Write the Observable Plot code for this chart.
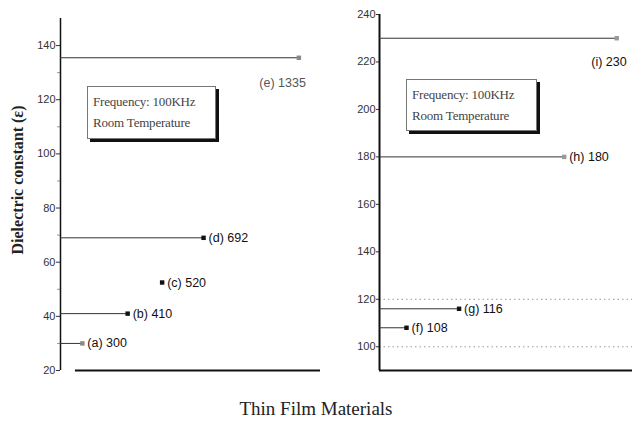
<!DOCTYPE html>
<html><head><meta charset="utf-8">
<script src="https://cdn.jsdelivr.net/npm/d3@7"></script>
<script src="https://cdn.jsdelivr.net/npm/@observablehq/plot@0.6"></script>
<style>
body{margin:0;background:#fff;}
#wrap{position:relative;width:632px;height:421px;overflow:hidden;font-family:"Liberation Sans",Arial,sans-serif;background:#fff;}
.panel{position:absolute;top:0;}
.box{position:absolute;box-sizing:border-box;border:1px solid #777;box-shadow:3px 3px 0 #111;background:#fff;font-family:"Liberation Serif","DejaVu Serif",serif;font-size:13px;color:#444;line-height:21px;padding:4px 4px 0 5px;white-space:nowrap;letter-spacing:-0.2px;}
#ylabel{position:absolute;left:18px;top:180px;transform:translate(-50%,-50%) rotate(-90deg);font-family:"Liberation Serif","DejaVu Serif",serif;font-weight:bold;font-size:16px;color:#222;white-space:nowrap;}
#title{position:absolute;left:0;width:632px;top:398px;text-align:center;font-family:"Liberation Serif","DejaVu Serif",serif;font-size:19px;color:#222;}
</style></head>
<body><div id="wrap">
<div class="panel" id="left" style="left:0"></div>
<div class="panel" id="right" style="left:320px"></div>
<div class="box" style="left:87px;top:86px;width:129px;height:53px">Frequency: 100KHz<br>Room Temperature</div>
<div class="box" style="left:406px;top:79px;width:131px;height:52px">Frequency: 100KHz<br>Room Temperature</div>
<div id="ylabel">Dielectric constant (ε)</div>
<div id="title">Thin Film Materials</div>
</div>
<script>
// Left panel data
const leftIds = ["(a)", "(b)", "(c)", "(d)", "(e)"];
const leftValues = [300, 410, 520, 692, 1335];
const leftY = [30, 41, 52.5, 69, 135.5];
const leftStem = [true, true, false, true, true];
const leftTicks = [20, 40, 60, 80, 100, 120, 140];
const leftMinor = [30, 50, 70, 90, 110, 130];
// Right panel data
const rightIds = ["(f)", "(g)", "(h)", "(i)"];
const rightValues = [108, 116, 180, 230];
const rightOrder = [1, 2, 4, 5];
const rightTicks = [100, 120, 140, 160, 180, 200, 220, 240];
const rightGrid = [100, 120];

const left = leftIds.map((id, i) => ({id, v: leftValues[i], y: leftY[i], stem: leftStem[i]}));
const right = rightIds.map((id, i) => ({id, v: rightValues[i], x: rightOrder[i]}));
const lab = d => `${d.id} ${d.v}`;
const labFont = {fontSize: 12.5, fill: "#111", fontFamily: "Liberation Sans, Arial, sans-serif"};

const lx0 = 258, lx1 = 1550;
const leftPlot = Plot.plot({
  width: 330, height: 380,
  marginLeft: 60, marginRight: 10, marginTop: 18, marginBottom: 10,
  style: {background: "transparent", fontFamily: "Liberation Sans, Arial, sans-serif", overflow: "visible"},
  x: {type: "log", domain: [lx0, lx1], axis: null},
  y: {domain: [20, 150], axis: null},
  marks: [
    Plot.axisY({ticks: leftTicks, tickSize: 4, tickPadding: 1, fontSize: 11, color: "#333", label: null}),
    Plot.axisY({ticks: leftMinor, tickSize: 3, tickFormat: () => "", color: "#999", label: null}),
    Plot.ruleX([lx0], {stroke: "#111", strokeWidth: 1.5}),
    Plot.ruleY([20], {x1: 286, x2: lx1, stroke: "#111", strokeWidth: 2}),
    Plot.ruleY(left.filter(d => d.stem), {y: "y", x1: lx0, x2: "v", stroke: "#333", strokeWidth: 1}),
    Plot.dot(left, {x: "v", y: "y", symbol: "square", r: 2.5, fill: d => (d.id === "(a)" || d.id === "(e)") ? "#888" : "#111", stroke: "none"}),
    Plot.text(left.filter(d => d.id !== "(e)"), {x: "v", y: "y", text: lab, dx: 5, textAnchor: "start", ...labFont}),
    Plot.text(left.filter(d => d.id === "(e)"), {x: "v", y: "y", text: lab, dx: 7, dy: 25, textAnchor: "end", ...labFont, fill: "#555"})
  ]
});
document.getElementById("left").appendChild(leftPlot);

const rx0 = 0.486, rx1 = 5.3;
const rightPlot = Plot.plot({
  width: 312, height: 380,
  marginLeft: 59, marginRight: 0, marginTop: 14, marginBottom: 10,
  style: {background: "transparent", fontFamily: "Liberation Sans, Arial, sans-serif", overflow: "visible"},
  x: {domain: [rx0, rx1], axis: null},
  y: {domain: [90, 240], axis: null},
  marks: [
    Plot.axisY({ticks: rightTicks, tickSize: 3, tickPadding: 1, fontSize: 11, color: "#333", label: null}),
    Plot.ruleY(rightGrid, {stroke: "#999", strokeDasharray: "1.5,3"}),
    Plot.ruleX([rx0], {stroke: "#111", strokeWidth: 2}),
    Plot.ruleY([90], {stroke: "#111", strokeWidth: 2}),
    Plot.ruleY(right, {y: "v", x1: rx0, x2: "x", stroke: "#333", strokeWidth: 1}),
    Plot.dot(right, {x: "x", y: "v", symbol: "square", r: 2.5, fill: d => (d.id === "(h)" || d.id === "(i)") ? "#999" : "#111", stroke: "none"}),
    Plot.text(right.filter(d => d.id !== "(i)"), {x: "x", y: "v", text: lab, dx: 5, textAnchor: "start", ...labFont}),
    Plot.text(right.filter(d => d.id === "(i)"), {x: "x", y: "v", text: lab, dx: 10, dy: 24, textAnchor: "end", ...labFont})
  ]
});
document.getElementById("right").appendChild(rightPlot);
</script>
</body></html>
